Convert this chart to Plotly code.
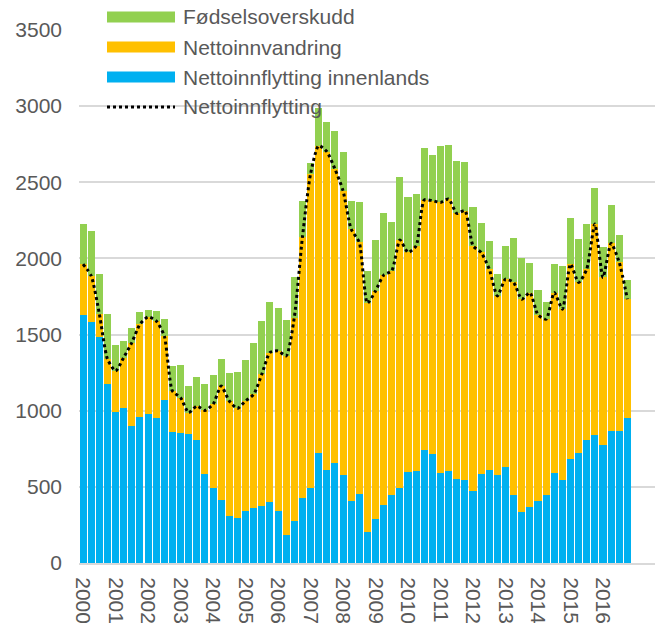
import plotly.graph_objects as go
import numpy as np

years = [str(y) for y in range(2000, 2017)]
quarters = list(range(68))

innenlands = [1629, 1585, 1487, 1173, 991, 1015, 899, 958, 980, 952, 1070, 860,
              855, 844, 807, 586, 493, 414, 307, 294, 340, 362, 377, 399,
              340, 182, 274, 428, 493, 724, 610, 658, 581, 406, 456, 204,
              292, 384, 445, 493, 599, 607, 739, 713, 592, 601, 553, 544,
              471, 586, 610, 579, 632, 445, 333, 368, 406, 445, 592, 542,
              684, 722, 807, 842, 774, 868, 868, 952]
innvandring = [334, 301, 151, 167, 270, 334, 548, 610, 636, 638, 421, 269,
               231, 143, 224, 416, 549, 748, 757, 721, 724, 745, 862, 983,
               1053, 1178, 1338, 1710, 2062, 2017, 2092, 1930, 1864, 1787, 1649, 1502,
               1495, 1506, 1474, 1628, 1440, 1476, 1645, 1666, 1776, 1789, 1743, 1770,
               1612, 1453, 1320, 1175, 1232, 1397, 1399, 1408, 1223, 1156, 1184, 1125,
               1279, 1120, 1123, 1384, 1101, 1231, 1106, 780]
fodsel = [263, 296, 263, 292, 169, 109, 95, 77, 44, 63, 114, 165,
          214, 173, 193, 171, 190, 180, 186, 242, 267, 340, 351, 333,
          282, 239, 267, 241, 70, 249, 193, 252, 257, 182, 263, 213,
          334, 406, 322, 416, 367, 340, 342, 303, 369, 358, 342, 322,
          253, 191, 186, 147, 219, 292, 270, 195, 163, 110, 185, 283,
          305, 283, 298, 237, 202, 250, 182, 128]
netto = list(np.array(innenlands) + np.array(innvandring))

names = ["Fødselsoverskudd", "Nettoinnvandring", "Nettoinnflytting innenlands", "Nettoinnflytting"]
colors = {"blue": "#00B0F0", "orange": "#FFC000", "green": "#92D050"}
font_fam = "Arial, Liberation Sans, sans-serif"
txt_col = "#595959"
fs = 21

fig = go.Figure()
fig.add_trace(go.Bar(x=quarters, y=innenlands, name=names[2], marker_color=colors["blue"],
                     marker_line_width=0, showlegend=False))
fig.add_trace(go.Bar(x=quarters, y=innvandring, name=names[1], marker_color=colors["orange"],
                     marker_line_width=0, showlegend=False))
fig.add_trace(go.Bar(x=quarters, y=fodsel, name=names[0], marker_color=colors["green"],
                     marker_line_width=0, showlegend=False))
fig.add_trace(go.Scatter(x=quarters, y=netto, name=names[3], mode="lines",
                         line=dict(color="black", width=3, dash="dot", shape="spline", smoothing=0.6),
                         showlegend=False))

# manual legend
L, R, T, B = 79, 655, 30, 563
W, H = R - L, B - T
def px(x):
    return (x - L) / W
def py(y):
    return (B - y) / H

rows = [(17, names[0], colors["green"]), (47, names[1], colors["orange"]),
        (77, names[2], colors["blue"]), (107, names[3], None)]
shapes = []
annotations = []
for yc, label, col in rows:
    if col:
        shapes.append(dict(type="rect", xref="paper", yref="paper",
                           x0=px(107), x1=px(175), y0=py(yc + 5.5), y1=py(yc - 5.5),
                           fillcolor=col, line_width=0))
    else:
        shapes.append(dict(type="line", xref="paper", yref="paper",
                           x0=px(107), x1=px(175), y0=py(yc), y1=py(yc),
                           line=dict(color="black", width=3, dash="dot")))
    annotations.append(dict(xref="paper", yref="paper", x=px(181), y=py(yc),
                            xanchor="left", yanchor="middle", text=label, showarrow=False,
                            font=dict(family=font_fam, size=fs, color=txt_col)))

fig.update_layout(
    width=662, height=623,
    margin=dict(l=L, r=662 - R, t=T, b=623 - B, autoexpand=False),
    paper_bgcolor="white", plot_bgcolor="white",
    barmode="stack", bargap=0.13,
    showlegend=False,
    shapes=shapes, annotations=annotations,
    font=dict(family=font_fam, size=fs, color=txt_col),
)
fig.update_xaxes(
    range=[-0.5, 70.4], tickmode="array", tickvals=list(range(0, 68, 4)), ticktext=years,
    tickangle=90, showgrid=False, showline=True, linecolor="#d9d9d9", linewidth=2,
    ticks="", ticklabelstandoff=8, tickfont=dict(size=fs, color=txt_col, family=font_fam),
    zeroline=False, automargin=False,
)
fig.update_yaxes(
    range=[0, 3500], tickvals=[0, 500, 1000, 1500, 2000, 2500, 3000, 3500],
    showgrid=True, gridcolor="#d9d9d9", gridwidth=1.5, zeroline=False, showline=False,
    ticks="", ticklabelstandoff=16, tickfont=dict(size=fs, color=txt_col, family=font_fam),
    automargin=False,
)

fig.write_html("out.html", config={"displayModeBar": False},
               post_script="document.body.style.margin='0';document.body.style.overflow='hidden';")
